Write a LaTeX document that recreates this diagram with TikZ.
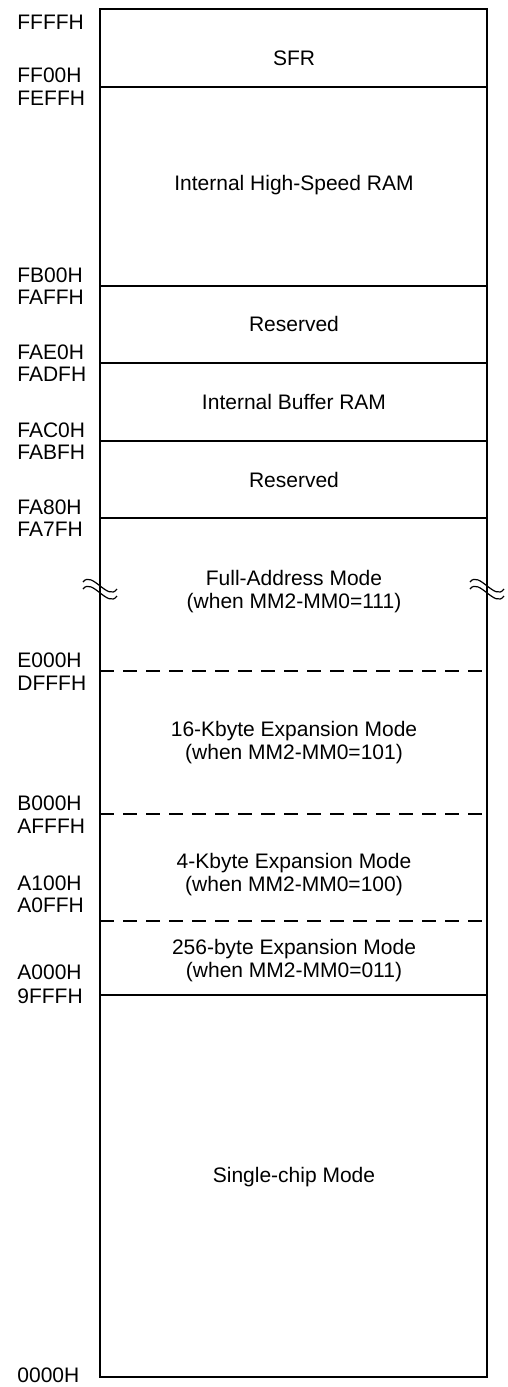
\documentclass[tikz,border=0pt]{standalone}
\usepackage{fontspec}
\setmainfont{Liberation Sans}
\usetikzlibrary{positioning}

\begin{document}
\begin{tikzpicture}[
  x=0.5pt, y=-0.5pt,
  addr/.style={anchor=west, inner sep=0pt, font=\fontsize{10.5}{11.5}\selectfont},
  area/.style={align=center, inner sep=0pt, font=\fontsize{10.5}{11.5}\selectfont},
  outer/.style={draw, line width=1pt},
  divider/.style={line width=0.6pt},
  modeline/.style={line width=0.6pt, dash pattern=on 7pt off 4.5pt},
  wave/.style={line width=0.6pt}
]
\useasboundingbox (0,0) rectangle (508,1387);

% memory map frame
\coordinate (mapNW) at (100,9);
\coordinate (mapSE) at (487,1377);
\draw[outer] (mapNW) rectangle (mapSE);

% solid boundaries
\foreach \y/\n in {87/sfr, 286/hsram, 363/resA, 441/buf, 518/resB, 995/ext} {
  \coordinate (l\n) at (100,\y);
  \coordinate (r\n) at (487,\y);
  \draw[divider] (l\n) -- (r\n);
}

% mode boundaries
\foreach \y/\n in {671/full, 814/kb16, 921/kb4} {
  \coordinate (l\n) at (100,\y);
  \coordinate (r\n) at (487,\y);
  \draw[modeline] (l\n) -- (r\n);
}

% break marks
\foreach \x in {100,487} {
  \foreach \d in {0,7}
    \draw[wave] (\x-17,582+\d) .. controls (\x-8,570+\d) and (\x+8,602+\d) .. (\x+17,589+\d);
}

% addresses
\foreach \y/\t in {22/FFFFH, 75/FF00H, 98/FEFFH, 275/FB00H, 297/FAFFH,
                   352/FAE0H, 374/FADFH, 430/FAC0H, 452/FABFH, 507/FA80H,
                   529/FA7FH, 660/E000H, 683/DFFFH, 803/B000H, 826/AFFFH,
                   883/A100H, 905/A0FFH, 972/A000H, 996/9FFFH, 1375/0000H}
  \node[addr] (a\t) at (17,\y) {\t};

% areas
\node[area] (sfr) at (294,58) {SFR};
\node[area] (hsram) at (294,185) {Internal High-Speed RAM};
\node[area] (resA) at (294,324) {Reserved};
\node[area] (buf) at (294,402) {Internal Buffer RAM};
\node[area] (resB) at (294,480) {Reserved};
\node[area] (full) at (294,592) {Full-Address Mode\\(when MM2-MM0=111)};
\node[area] (kb16) at (294,743) {16-Kbyte Expansion Mode\\(when MM2-MM0=101)};
\node[area] (kb4) at (294,875) {4-Kbyte Expansion Mode\\(when MM2-MM0=100)};
\node[area] (b256) at (294,961) {256-byte Expansion Mode\\(when MM2-MM0=011)};
\node[area] (single) at (294,1177) {Single-chip Mode};
\end{tikzpicture}
\end{document}
